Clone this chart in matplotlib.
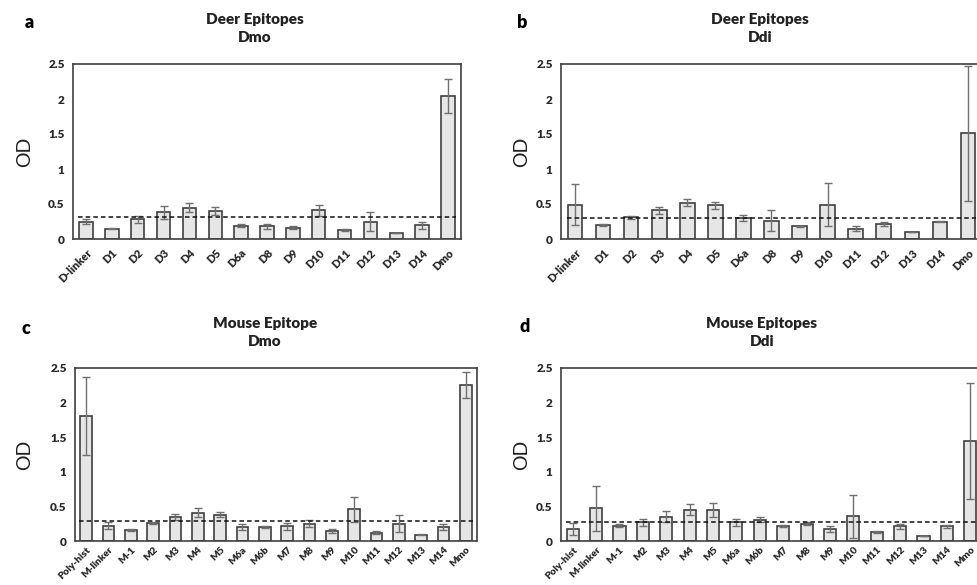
import matplotlib
matplotlib.use("Agg")
import matplotlib.pyplot as plt
import numpy as np

plt.rcParams['font.family'] = ['Lato', 'DejaVu Sans']

# deer epitope panels
deer_labels = ["D-linker", "D1", "D2", "D3", "D4", "D5", "D6a", "D8", "D9",
               "D10", "D11", "D12", "D13", "D14", "Dmo"]
a_od = [0.25, 0.15, 0.28, 0.38, 0.45, 0.40, 0.19, 0.18, 0.16, 0.41, 0.13, 0.25, 0.085, 0.20, 2.04]
a_err = [0.04, 0.01, 0.05, 0.09, 0.07, 0.06, 0.02, 0.03, 0.02, 0.08, 0.02, 0.14, 0.005, 0.05, 0.24]
a_cut = 0.32

b_od = [0.49, 0.20, 0.31, 0.41, 0.52, 0.48, 0.30, 0.26, 0.18, 0.49, 0.15, 0.22, 0.10, 0.25, 1.51]
b_err = [0.29, 0.01, 0.02, 0.05, 0.05, 0.05, 0.04, 0.15, 0.01, 0.31, 0.03, 0.03, 0.005, 0.01, 0.96]
b_cut = 0.30

# mouse epitope panels
mouse_labels = ["Poly-hist", "M-linker", "M-1", "M2", "M3", "M4", "M5", "M6a", "M6b",
                "M7", "M8", "M9", "M10", "M11", "M12", "M13", "M14", "Mmo"]
c_od = [1.81, 0.22, 0.16, 0.26, 0.35, 0.41, 0.38, 0.20, 0.20, 0.21, 0.25, 0.15,
        0.46, 0.12, 0.25, 0.09, 0.20, 2.25]
c_err = [0.56, 0.05, 0.01, 0.02, 0.04, 0.07, 0.04, 0.04, 0.01, 0.05, 0.05, 0.03,
         0.18, 0.02, 0.12, 0.005, 0.04, 0.19]
c_cut = 0.285

d_od = [0.17, 0.47, 0.22, 0.27, 0.35, 0.45, 0.45, 0.27, 0.31, 0.22, 0.25, 0.17,
        0.36, 0.135, 0.21, 0.075, 0.21, 1.44]
d_err = [0.09, 0.32, 0.02, 0.05, 0.08, 0.08, 0.10, 0.055, 0.035, 0.015, 0.025, 0.04,
         0.31, 0.015, 0.03, 0.003, 0.02, 0.84]
d_cut = 0.27

panels = [
    ("a", "Deer Epitopes\nDmo", deer_labels, a_od, a_err, a_cut),
    ("b", "Deer Epitopes\nDdi", deer_labels, b_od, b_err, b_cut),
    ("c", "Mouse Epitope\nDmo", mouse_labels, c_od, c_err, c_cut),
    ("d", "Mouse Epitopes\nDdi", mouse_labels, d_od, d_err, d_cut),
]

W, H = 977, 585
# axes boxes in pixels: left, right, top, bottom
boxes = [(73, 461, 64, 239), (561, 982, 64, 239), (75, 477, 368, 541), (561, 982, 368, 541)]
letter_pos = [(25, 22), (517, 22), (22, 329), (520, 327)]
title_pos = [(255, 13), (760, 13), (265, 317), (762, 317)]
od_x = [25, 522, 25, 522]
xlab_size = [8, 8, 7.3, 7.3]
xlab_pad = [6, 6, 3, 3]

fig = plt.figure(figsize=(W / 100, H / 100), dpi=100)
edge = "#404040"

for i, (letter, title, labels, od, err, cut) in enumerate(panels):
    l, r, t, b = boxes[i]
    ax = fig.add_axes([l / W, 1 - b / H, (r - l) / W, (b - t) / H])
    x = np.arange(len(labels))
    ax.bar(x, od, width=0.52, color="#e6e6e6", edgecolor=edge, linewidth=1.2, zorder=2)
    ax.errorbar(x, od, yerr=err, fmt="none", ecolor="#707070", elinewidth=1,
                capsize=3, capthick=1, zorder=3)
    ax.hlines(cut, -0.3, len(labels) - 0.7, colors="#111111", linestyles=(0, (3, 2)),
              linewidth=1.1, zorder=4)
    ax.set_xlim(-0.5, len(labels) - 0.5)
    ax.set_ylim(0, 2.5)
    ax.set_yticks([0, 0.5, 1, 1.5, 2, 2.5])
    ax.set_yticklabels(["0", "0.5", "1", "1.5", "2", "2.5"], fontsize=8.5, fontweight="heavy",
                       color="#2a2a2a")
    ax.set_xticks(x)
    ax.set_xticklabels(labels, rotation=45, ha="right", rotation_mode="anchor",
                       fontsize=xlab_size[i], fontweight="heavy", color="#2a2a2a")
    ax.tick_params(axis="y", length=0, pad=6)
    ax.tick_params(axis="x", length=0, pad=xlab_pad[i])
    for s in ax.spines.values():
        s.set_color(edge)
        s.set_linewidth(1.2)

    fig.text(letter_pos[i][0] / W, 1 - letter_pos[i][1] / H, letter, fontsize=13,
             fontweight="heavy", ha="left", va="center")
    fig.text(title_pos[i][0] / W, 1 - title_pos[i][1] / H, title, fontsize=11,
             fontweight="heavy", ha="center", va="top", color="#222222", linespacing=1.45)
    fig.text(od_x[i] / W, 1 - ((t + b) / 2) / H, "OD", fontsize=14, rotation=90,
             ha="center", va="center", color="#222222")

fig.savefig("out.png", dpi=100)
